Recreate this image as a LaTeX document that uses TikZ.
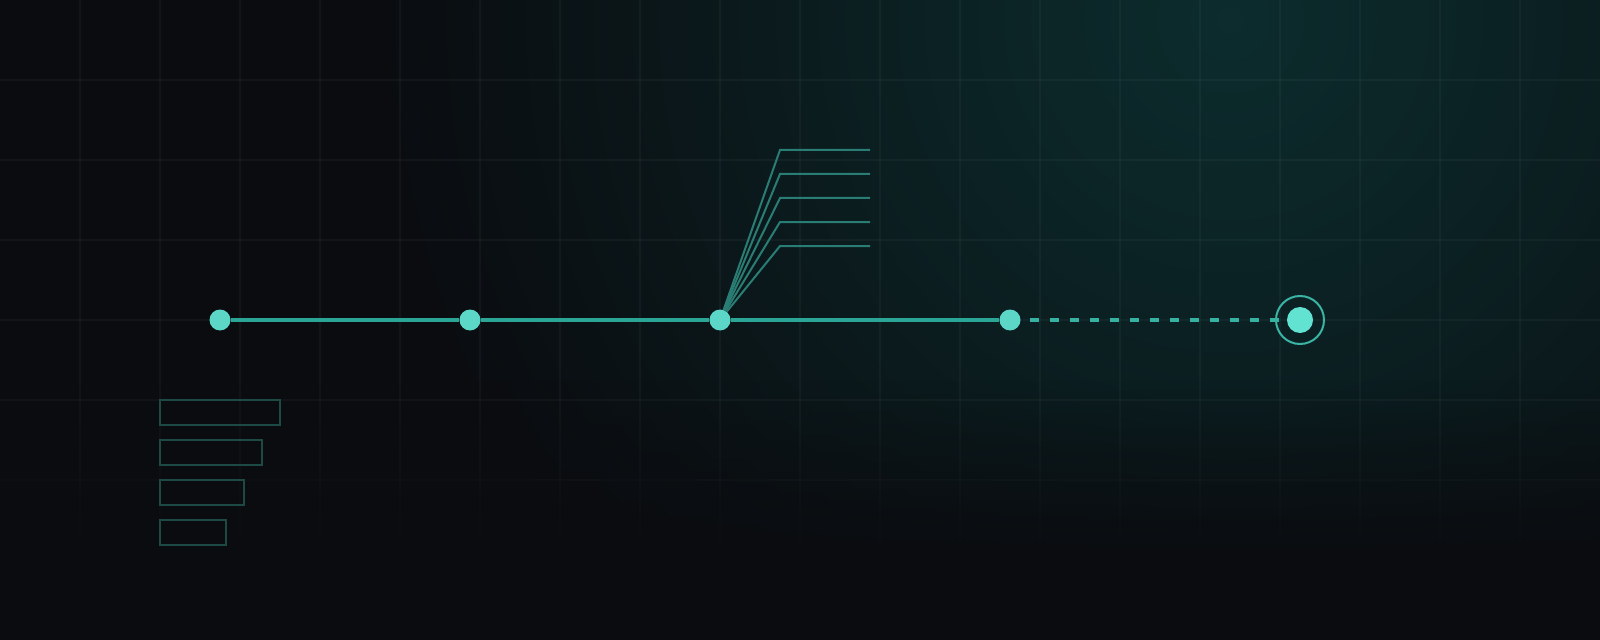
\documentclass[tikz,border=0pt]{standalone}
\usetikzlibrary{fadings}

\definecolor{bgdark}{HTML}{0A0C10}
\definecolor{glow}{HTML}{0C2C2D}
\definecolor{railc}{HTML}{2BA696}
\definecolor{dotc}{HTML}{5CD6C6}
\definecolor{fanc}{HTML}{2A7D74}
\definecolor{boxc}{HTML}{1E4A46}
\definecolor{goalc}{HTML}{62E3D2}
\tikzfading[name=fade down, top color=transparent!100, bottom color=transparent!0]

\begin{document}
\begin{tikzpicture}[x=1bp, y=-1bp,
    stop/.style={circle, fill=dotc, inner sep=0pt, minimum size=21bp},
    rail/.style={draw=railc, line width=4.5bp},
    fanline/.style={draw=fanc, line width=2bp},
    bar/.style={draw=boxc, line width=1.6bp}]
    % Background and glow
    \fill[bgdark] (0,0) rectangle (1600,640);
    \begin{scope}
        \clip (0,0) rectangle (1600,640);
        \shade[inner color=glow, outer color=bgdark] (1230,20) circle (850);
    \end{scope}
    \useasboundingbox (0,0) rectangle (1600,640);

    % Grid
    \foreach \x in {80,160,...,1520} \draw[white, opacity=0.035, line width=1.2bp] (\x,0) -- (\x,560);
    \foreach \y in {80,160,...,480} \draw[white, opacity=0.035, line width=1.2bp] (0,\y) -- (1600,\y);
    \fill[bgdark, path fading=fade down, fit fading=true] (-20,380) rectangle (1620,560);
    \fill[bgdark] (-20,559) rectangle (1620,660);

    % Stops along the rail
    \node[stop] (s1) at (220,320) {};
    \node[stop] (s2) at (470,320) {};
    \node[stop] (s3) at (720,320) {};
    \node[stop] (s4) at (1010,320) {};
    \node[circle, fill=goalc, inner sep=0pt, minimum size=26bp] (goal) at (1300,320) {};
    \draw[railc!70!dotc, line width=2bp] (goal.center) circle (24);

    \draw[rail] (s1) -- (s2);
    \draw[rail] (s2) -- (s3);
    \draw[rail] (s3) -- (s4);
    \draw[railc!75!dotc, line width=3.5bp, dash pattern=on 9bp off 11bp, dash phase=-9bp] (s4) -- (goal);

    % Fan out of the third stop
    \foreach \i in {0,...,4} {
        \coordinate (k\i) at (780,150+24*\i);
        \coordinate (e\i) at (870,150+24*\i);
        \draw[fanline] (s3) -- (k\i) -- (e\i);
    }

    % Shrinking bars
    \foreach \i/\w in {0/120,1/102,2/84,3/66}
        \draw[bar] (160,400+40*\i) rectangle ++(\w,25);
\end{tikzpicture}
\end{document}
